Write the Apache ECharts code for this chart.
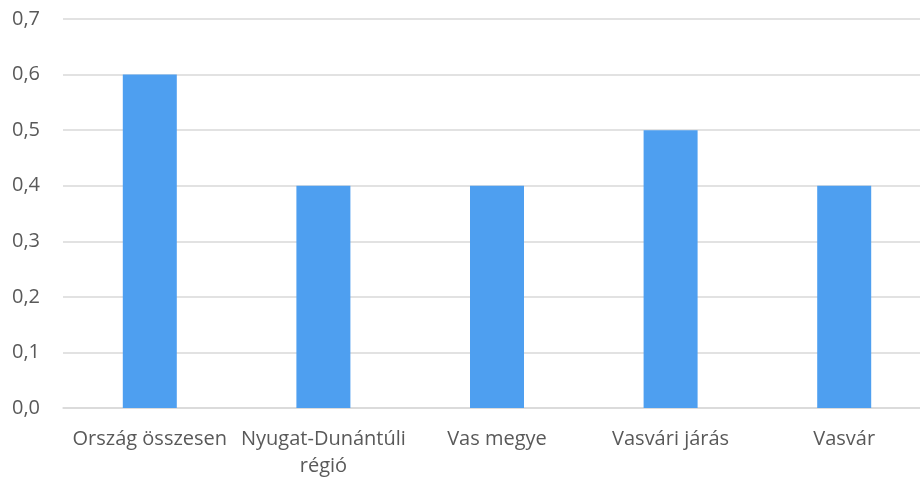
<!DOCTYPE html>
<html>
<head>
<meta charset="utf-8">
<script src="https://cdn.jsdelivr.net/npm/echarts@6/dist/echarts.min.js"></script>
<style>
html, body { margin: 0; padding: 0; background: #fff; }
#chart { width: 920px; height: 482px; }
</style>
</head>
<body>
<div id="chart"></div>
<script>
var categories = ['Ország összesen', 'Nyugat-Dunántúli\nrégió', 'Vas megye', 'Vasvári járás', 'Vasvár'];
var values = [0.6, 0.4, 0.4, 0.5, 0.4];

var myChart = echarts.init(document.getElementById('chart'));
var option = {
	animation: false,
	grid: {
		left: 63,
		width: 868,
		top: 19,
		bottom: 74,
		outerBoundsMode: 'none'
	},
	xAxis: {
		type: 'category',
		data: categories,
		axisTick: {show: false},
		axisLine: {lineStyle: {color: '#d9d9d9', width: 1.5}},
		axisLabel: {
			color: '#595959',
			fontSize: 20,
			fontFamily: 'Open Sans',
			margin: 18,
			lineHeight: 27,
			interval: 0
		}
	},
	yAxis: {
		type: 'value',
		min: 0,
		max: 0.7,
		interval: 0.1,
		axisLine: {show: false},
		axisTick: {show: false},
		splitLine: {lineStyle: {color: '#d9d9d9', width: 1.5}},
		axisLabel: {
			color: '#595959',
			fontSize: 20,
			fontFamily: 'Open Sans',
			margin: 23,
			formatter: function (v) {
				return v.toFixed(1).replace('.', ',');
			}
		}
	},
	series: [{
		type: 'bar',
		data: values,
		barWidth: 54,
		itemStyle: {color: '#4e9ff0'}
	}]
};
myChart.setOption(option);
</script>
</body>
</html>
